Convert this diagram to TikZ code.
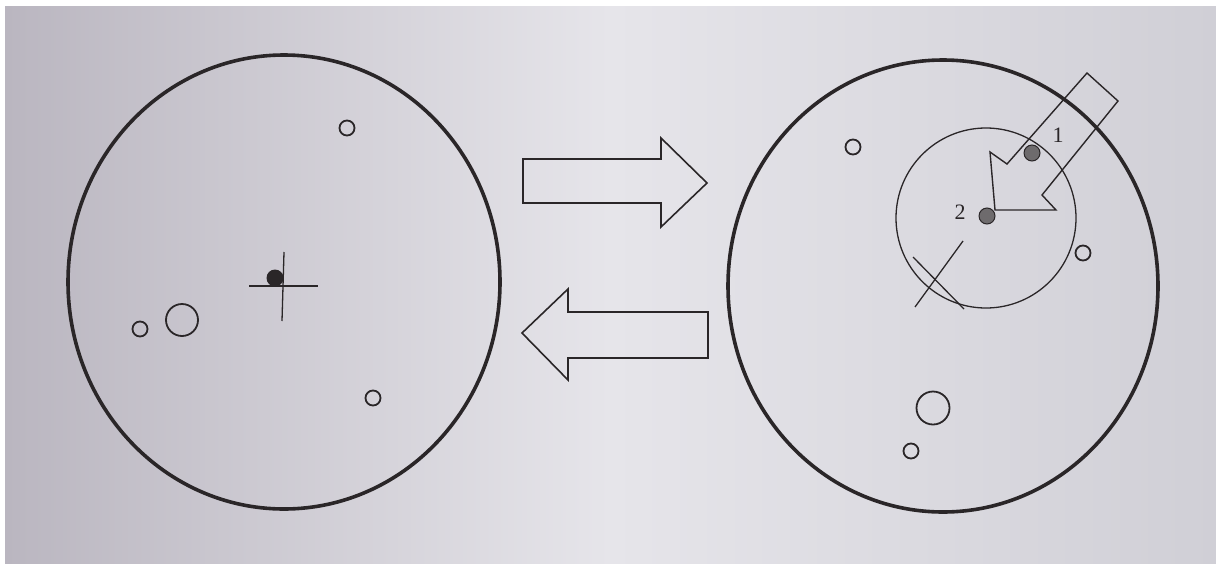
\documentclass[tikz,border=0pt]{standalone}
\usepackage{fontspec}
\setmainfont{Liberation Serif}
\definecolor{paperLeft}{HTML}{BAB6C0}
\definecolor{paperMid}{HTML}{E6E5EA}
\definecolor{paperRight}{HTML}{D0CFD6}
\definecolor{ink}{HTML}{2A2628}
\definecolor{dotgray}{HTML}{6E6B6D}

\begin{document}
\begin{tikzpicture}[
  x=1pt, y=-1pt,
  font=\fontsize{22}{26}\selectfont,
  disc/.style={draw=ink, line width=3.6pt},
  hole/.style={draw=ink, line width=1.8pt},
  blockarrow/.style={draw=ink, line width=1.6pt, line join=miter},
  thinline/.style={draw=ink, line width=1.3pt},
  marker/.style={draw=ink, line width=1pt, fill=dotgray},
]
\useasboundingbox (0,0) rectangle (1216,563);
\fill[white] (0,0) rectangle (1216,563);
\shade[left color=paperLeft, right color=paperRight, middle color=paperMid]
  (5,6) rectangle (1216,563);

% left disc
\coordinate (lc) at (284,282);
\draw[disc] (lc) ellipse [x radius=216pt, y radius=227pt];
\draw[hole] (347,128) circle (7.5pt);
\draw[hole] (373,398) circle (7.5pt);
\draw[hole] (140,329) circle (7.5pt);
\draw[hole] (182,320) circle (16pt);
\fill[ink] (275,278) circle (8.5pt);
\draw[thinline] (249,286) -- (318,286);
\draw[thinline] (284,252) -- (282,321);

% middle block arrows
\draw[blockarrow] (523,159) -- (661,159) -- (661,138) -- (707,183)
  -- (661,227) -- (661,203) -- (523,203) -- cycle;
\draw[blockarrow] (708,312) -- (568,312) -- (568,289) -- (522,333)
  -- (568,380) -- (568,358) -- (708,358) -- cycle;

% right disc
\coordinate (rc) at (943,286);
\draw[disc] (rc) ellipse [x radius=215pt, y radius=226pt];
\draw[hole] (853,147) circle (7.5pt);
\draw[hole] (1083,253) circle (7.5pt);
\draw[hole] (933,408) circle (16.5pt);
\draw[hole] (911,451) circle (7.5pt);

\coordinate (ic) at (986,218);
\draw[thinline] (ic) circle (90pt);
\draw[thinline] (963,241) -- (915,307);
\draw[thinline] (913,257) -- (964,309);

% pointer arrow into the inner circle
\draw[blockarrow, line width=1.4pt] (1087,73) -- (1118,101) -- (1042,195)
  -- (1056,210) -- (995,210) -- (990,152) -- (1007,164) -- cycle;

\draw[marker] (1032,153) circle (8pt);
\draw[marker] (987,216) circle (8pt);
\node[text=ink] (one) at (1058,135) {1};
\node[text=ink] (two) at (960,212) {2};
\end{tikzpicture}
\end{document}
